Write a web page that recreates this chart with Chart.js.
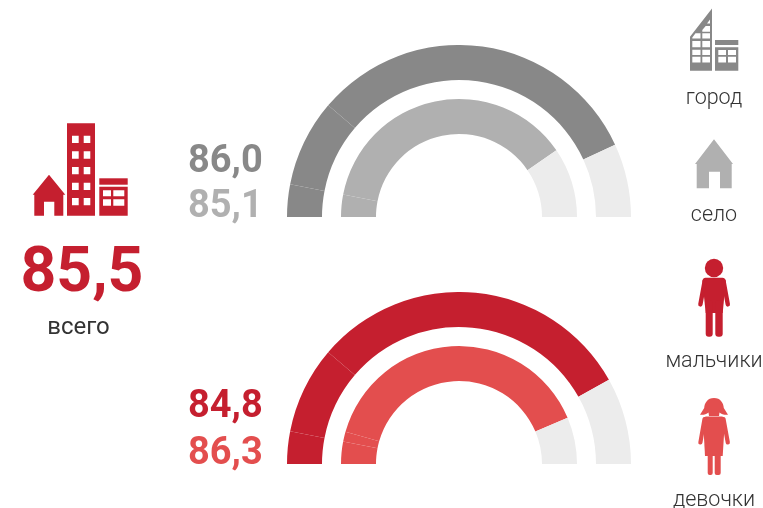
<!DOCTYPE html>
<html>
<head>
<meta charset="utf-8">
<title>Gauge chart</title>
<script src="https://cdn.jsdelivr.net/npm/chart.js@4"></script>
<style>
    html, body { margin: 0; padding: 0; background: #fff; }
    body { position: relative; width: 763px; height: 508px; overflow: hidden; font-family: Roboto, sans-serif; }
    canvas, svg { position: absolute; }
    .num { position: absolute; font-weight: 700; line-height: 1; white-space: nowrap; }
    .lbl { position: absolute; width: 120px; text-align: center; line-height: 1; white-space: nowrap; color: #333; font-weight: 300; font-size: 21.5px; }
</style>
</head>
<body>
<canvas id="topGauge" style="left:287px;top:45px"></canvas>
<canvas id="bottomGauge" style="left:287px;top:291.5px"></canvas>

<svg width="763" height="508" viewBox="0 0 763 508" style="left:0;top:0">
    <!-- total icon -->
    <g fill="#c51f2f">
        <path d="M49 174.7 L65.3 194.7 L63.3 194.7 L63.3 215.7 L54.3 215.7 L54.3 201.7 L44 201.7 L44 215.7 L34.3 215.7 L34.3 194.7 L32.7 194.7 Z"/>
        <path fill-rule="evenodd" d="M67 123.3H95V215.7H67Z
            M72 135.7V143H78.7V135.7Z M83.7 135.7V143H90.3V135.7Z
            M72 151.3V158.7H78.7V151.3Z M83.7 151.3V158.7H90.3V151.3Z
            M72 167V174.3H78.7V167Z M83.7 167V174.3H90.3V167Z
            M72 182.7V190H78.7V182.7Z M83.7 182.7V190H90.3V182.7Z
            M72 198V205.3H78.7V198Z M83.7 198V205.3H90.3V198Z"/>
        <rect x="99.3" y="178.3" width="28.4" height="6.4"/>
        <path fill-rule="evenodd" d="M99.3 186.7H127.7V215.7H99.3Z
            M103 190.3V196.3H111V190.3Z M113.3 190.3V196.3H124.3V190.3Z
            M103 199.3V205.7H111V199.3Z M113.3 199.3V205.7H124.3V199.3Z"/>
    </g>
    <!-- city icon -->
    <g fill="#888888">
        <path fill-rule="evenodd" d="M690 36.7 L712 8.5 V70.7 H690 Z
            M692.3 38.5 V37.5 L695.5 33.3 H700.5 V38.5 Z
            M702.3 38.5 V33.3 H710 V38.5 Z
            M702.3 31.7 V30 L705.7 26 H710 V31.7 Z
            M707 23.5 L710 19.5 V23.5 Z
            M692.3 41 V47.3 H700.5 V41 Z M702.3 41 V47.3 H710 V41 Z
            M692.3 49.7 V55 H700.5 V49.7 Z M702.3 49.7 V55 H710 V49.7 Z
            M692.3 56.7 V62.5 H700.5 V56.7 Z M702.3 56.7 V62.5 H710 V56.7 Z"/>
        <rect x="715" y="40" width="23.3" height="5"/>
        <path fill-rule="evenodd" d="M715 47.2H738.3V70.7H715Z
            M718.3 50V55H726V50Z M728 50V55H736V50Z
            M718.3 56.7V62.5H726V56.7Z M728 56.7V62.5H736V56.7Z"/>
    </g>
    <!-- village icon -->
    <path fill="#b0b0b0" d="M714 139.3 L733 164 L731.7 164 V188.3 H720 V171.7 H709 V188.3 H696.7 V164 L695 164 Z"/>
    <!-- boy -->
    <g fill="#c51f2f" stroke="none">
        <circle cx="714" cy="268" r="9.2"/>
        <path d="M705.5 277.7 H722.5 Q725 277.7 725.8 281 L722.7 313 H705.7 L702.4 281 Q703 277.7 705.5 277.7 Z"/>
        <rect x="705.7" y="300" width="7" height="36.7" rx="3"/>
        <rect x="715.3" y="300" width="7.4" height="36.7" rx="3"/>
        <path d="M704.7 281 L700.4 304.4 M723.5 281 L727.8 304.4" stroke="#c51f2f" stroke-width="4.4" stroke-linecap="round"/>
    </g>
    <!-- girl -->
    <g fill="#e34e4e" stroke="none">
        <path d="M714 398 C720.5 398 723.5 403 723.8 408 L728 414.7 C724.5 415 721.5 414.3 719.5 412.5 L719 416 H709 L708.5 412.5 C706.5 414.3 703.5 415 700 414.7 L704.2 408 C704.5 403 707.5 398 714 398 Z"/>
        <path d="M706 416.5 H722 Q724.5 416.5 725 419 L722.7 456 H705 L703 419 Q703.5 416.5 706 416.5 Z"/>
        <path d="M704.5 419 L700.4 442.5 M723.5 419 L727.8 442.5" stroke="#e34e4e" stroke-width="4.2" stroke-linecap="round"/>
        <rect x="707.7" y="454" width="5" height="21" rx="2"/>
        <rect x="714.7" y="454" width="6" height="21" rx="2"/>
    </g>
</svg>

<script>
// Chart values, half circle = 100 units, last slice is the unfilled part
const topOuterSegments = [6.1, 16.4, 63.7, 13.8];
const topInnerSegments = [6.1, 74.8, 19.1];
const bottomOuterSegments = [6.1, 16.4, 61.2, 16.3];
const bottomInnerSegments = [6.1, 2.7, 78.4, 12.8];

const totalValue = '85,5';
const totalLabel = 'всего';
const topValues = ['86,0', '85,1'];
const bottomValues = ['84,8', '86,3'];
const legendLabels = ['город', 'село', 'мальчики', 'девочки'];

const COLORS = {
    outerGray: '#888888',
    innerGray: '#b0b0b0',
    outerRed: '#c51f2f',
    innerRed: '#e34e4e',
    rest: '#ececec'
};

const sliceColors = (segments, color) =>
    segments.map((_, i) => (i === segments.length - 1 ? COLORS.rest : color));

const createGauge = (id, outer, inner, outerColor, innerColor) => {
    const canvas = document.getElementById(id);
    canvas.width = 344;
    canvas.height = 172;
    return new Chart(canvas.getContext('2d'), {
        type: 'doughnut',
        data: {
            datasets: [
                { data: outer, backgroundColor: sliceColors(outer, outerColor), borderWidth: 0, weight: 35 },
                { data: [1], backgroundColor: 'rgba(0,0,0,0)', borderWidth: 0, weight: 19 },
                { data: inner, backgroundColor: sliceColors(inner, innerColor), borderWidth: 0, weight: 35 }
            ]
        },
        options: {
            responsive: false,
            animation: false,
            rotation: -90,
            circumference: 180,
            cutout: '48.26%',
            plugins: { legend: { display: false }, tooltip: { enabled: false } }
        }
    });
};

createGauge('topGauge', topOuterSegments, topInnerSegments, COLORS.outerGray, COLORS.innerGray);
createGauge('bottomGauge', bottomOuterSegments, bottomInnerSegments, COLORS.outerRed, COLORS.innerRed);

const addText = (cls, text, x, baseline, size, color) => {
    const el = document.createElement('div');
    el.className = cls;
    el.textContent = text;
    el.style.left = x + 'px';
    if (size) el.style.fontSize = size + 'px';
    if (color) el.style.color = color;
    document.body.appendChild(el);
    const fontSize = parseFloat(getComputedStyle(el).fontSize);
    el.style.top = (baseline - fontSize * 0.841) + 'px';
    return el;
};

addText('num', totalValue, 20.5, 291.5, 62.5, COLORS.outerRed);
addText('num', topValues[0], 188, 172.3, 38, COLORS.outerGray);
addText('num', topValues[1], 188, 217, 38, COLORS.innerGray);
addText('num', bottomValues[0], 188, 416.8, 38, COLORS.outerRed);
addText('num', bottomValues[1], 188, 463.5, 38, COLORS.innerRed);

const totalEl = addText('lbl', totalLabel, 18.5, 334, 24);
totalEl.style.fontWeight = 400;
addText('lbl', legendLabels[0], 654, 104);
addText('lbl', legendLabels[1], 654, 221);
addText('lbl', legendLabels[2], 654, 367);
addText('lbl', legendLabels[3], 654, 506);
</script>
</body>
</html>
